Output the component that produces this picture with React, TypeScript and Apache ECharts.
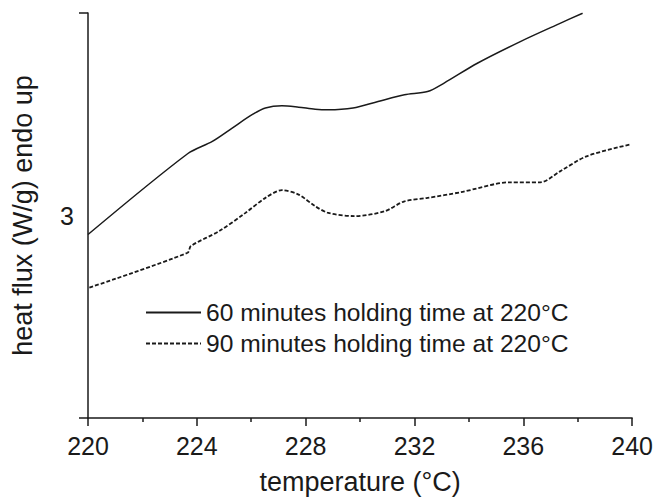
import React, { useEffect, useRef } from "react";
import * as echarts from "echarts";

const temp60 = [220.0, 223.66, 224.57, 225.3, 226.03, 226.52, 227.13, 227.74, 228.35, 228.83, 229.74, 230.66, 231.63, 232.48, 233.09, 234.31, 235.89, 237.35, 238.18];
const flux60 = [2.906, 3.305, 3.366, 3.432, 3.498, 3.531, 3.542, 3.535, 3.525, 3.522, 3.531, 3.563, 3.596, 3.612, 3.654, 3.752, 3.859, 3.949, 3.999];

const temp90 = [220.05, 223.66, 223.78, 224.82, 225.79, 226.52, 227.13, 227.74, 228.35, 228.83, 229.8, 230.9, 231.63, 232.48, 233.7, 235.52, 236.62, 237.35, 238.32, 239.9];
const flux90 = [2.644, 2.816, 2.849, 2.923, 3.013, 3.087, 3.125, 3.103, 3.046, 3.013, 2.997, 3.021, 3.07, 3.087, 3.115, 3.164, 3.164, 3.218, 3.292, 3.35];

const seriesNames = ["60 minutes holding time at 220°C", "90 minutes holding time at 220°C"];
const yLabelShown = [3];

const FONT = "Liberation Sans, Arial, sans-serif";
const INK = "#1a1a1a";

export default function App() {
  const ref = useRef<HTMLDivElement>(null);
  useEffect(() => {
    if (!ref.current) return;
    const chart = echarts.init(ref.current, undefined, { renderer: "svg" });
    const d60 = temp60.map((t, i) => [t, flux60[i]]);
    const d90 = temp90.map((t, i) => [t, flux90[i]]);
    chart.setOption({
      animation: false,
      backgroundColor: "#fff",
      grid: { left: 88, right: 20, top: 13, bottom: 81 },
      legend: {
        orient: "vertical",
        left: 145,
        top: 300,
        padding: 0,
        itemWidth: 55,
        itemHeight: 14,
        itemGap: 6,
        itemStyle: { opacity: 0, borderWidth: 0 },
        textStyle: { fontFamily: FONT, fontSize: 24.6, color: INK },
        data: seriesNames,
      },
      xAxis: {
        type: "value",
        min: 220,
        max: 240,
        interval: 4,
        name: "temperature (°C)",
        nameLocation: "middle",
        nameGap: 50,
        nameTextStyle: { fontFamily: FONT, fontSize: 27, color: INK },
        axisLine: { lineStyle: { color: INK, width: 1.5 } },
        axisTick: { length: 8, lineStyle: { color: INK, width: 1.5 } },
        minorTick: { show: true, splitNumber: 2, length: 4, lineStyle: { color: INK, width: 1.5 } },
        splitLine: { show: false },
        axisLabel: { fontFamily: FONT, fontSize: 25, color: INK, margin: 15 },
      },
      yAxis: [
        {
          type: "value",
          min: 2,
          max: 4,
          interval: 1,
          position: "left",
          name: "heat flux (W/g) endo up",
          nameLocation: "middle",
          nameGap: 52,
          nameTextStyle: { fontFamily: FONT, fontSize: 27, color: INK },
          axisLine: { show: true, lineStyle: { color: INK, width: 1.5 } },
          axisTick: { show: false },
          splitLine: { show: false },
          axisLabel: {
            fontFamily: FONT,
            fontSize: 25,
            color: INK,
            margin: 14,
            formatter: (v: number) => (yLabelShown.includes(v) ? String(v) : ""),
          },
        },
        {
          type: "value",
          min: 2,
          max: 4,
          interval: 2,
          position: "left",
          axisLine: { show: false },
          axisTick: { show: true, length: 9, lineStyle: { color: INK, width: 1.5 } },
          axisLabel: { show: false },
          splitLine: { show: false },
        },
      ],
      series: [
        {
          name: seriesNames[0],
          type: "line",
          data: d60,
          smooth: 0.3,
          symbol: "none",
          lineStyle: { color: INK, width: 1.5, type: "solid" },
          itemStyle: { color: INK },
        },
        {
          name: seriesNames[1],
          type: "line",
          data: d90,
          smooth: 0.3,
          symbol: "none",
          lineStyle: { color: INK, width: 1.8, type: [4, 2] },
          itemStyle: { color: INK },
        },
      ],
    });
    return () => chart.dispose();
  }, []);
  return <div ref={ref} style={{ width: 656, height: 500, position: "absolute", left: 0, top: 0 }} />;
}
